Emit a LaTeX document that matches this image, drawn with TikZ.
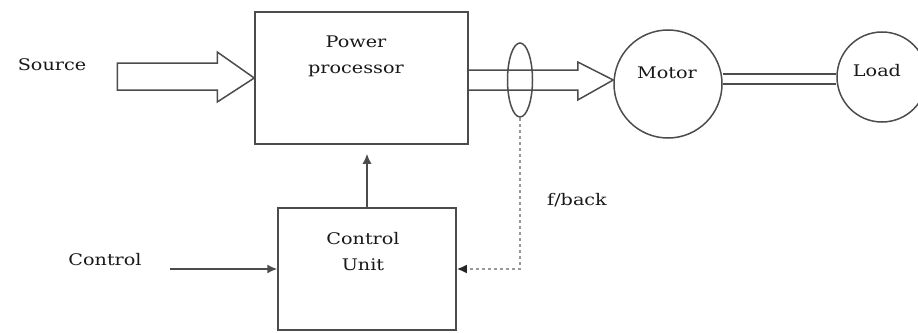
\documentclass[tikz,border=0pt]{standalone}
\usepackage{fontspec}
\setmainfont{DejaVu Serif}
\usetikzlibrary{calc,arrows.meta,shapes.geometric}
\newcommand\wtxt[1]{\scalebox{1.2}[1]{#1}}
\tikzset{
  ln/.style={draw=black!70, line width=1.5pt},
  blk/.style={ln, rectangle, inner sep=0pt},
  txt/.style={text=black!90, font=\fontsize{16}{26}\selectfont, align=center, inner sep=0pt},
  arr/.style={ln, -{Latex[length=10pt,width=9pt]}},
  fbline/.style={draw=black!40, line width=2pt, dash pattern=on 3pt off 3pt, -{Latex[length=10pt,width=9pt,color=black!85]}},
}
\begin{document}
\begin{tikzpicture}[x=1pt,y=-1pt]
\useasboundingbox (0,0) rectangle (918,332);
% blocks
\node[blk, minimum width=213pt, minimum height=132pt] (pp) at (361.5,78) {};
\node[txt] (pptext) at (356,56) {\wtxt{Power}\\\wtxt{processor}};
\node[blk, minimum width=178pt, minimum height=122pt] (cu) at (367,269) {};
\node[txt] (cutext) at (363,252) {\wtxt{Control}\\\wtxt{Unit}};
\node[ln, circle, minimum size=108pt, inner sep=0pt] (motor) at (668,84) {};
\node[txt] (motortext) at (667,73) {\wtxt{Motor}};
\node[ln, circle, minimum size=90pt, inner sep=0pt] (load) at (882,77) {};
\node[txt] (loadtext) at (877,71) {\wtxt{Load}};
% labels
\node[txt] (src) at (52,65) {\wtxt{Source}};
\node[txt] (ctrl) at (105,260) {\wtxt{Control}};
\node[txt] (fbl) at (577,200) {\wtxt{f/back}};
% source hollow arrow
\draw[ln, fill=white] ($(pp.west)+(-137,-15)$) -- ($(pp.west)+(-37,-15)$) -- ($(pp.west)+(-37,-26)$)
  -- (pp.west) -- ($(pp.west)+(-37,24)$) -- ($(pp.west)+(-37,12)$) -- ($(pp.west)+(-137,12)$) -- cycle;
% output hollow arrow
\draw[ln] ($(pp.east)+(0,-8)$) -- ($(pp.east)+(109,-8)$) -- ($(pp.east)+(109,-16)$)
  -- (motor.west |- {$(pp.east)+(0,2)$}) -- ($(pp.east)+(109,22)$) -- ($(pp.east)+(109,12)$) -- ($(pp.east)+(0,12)$);
% feedback sensor ellipse
\node[ln, ellipse, minimum width=25pt, minimum height=74pt, inner sep=0pt] (fb) at (520,80) {};
% shaft
\draw[ln] ($(motor.east)+(0,-10)$) -- ($(load.west)+(0,-3)$);
\draw[ln] ($(motor.east)+(0,0)$) -- ($(load.west)+(0,7)$);
% control connections
\draw[arr, shorten >=9pt] (cu.north) -- (cu.north |- pp.south);
\coordinate (cin) at (170,269);
\draw[arr] (cin) -- (cu.west);
\draw[fbline] (fb.south) |- (cu.east);
\end{tikzpicture}
\end{document}
